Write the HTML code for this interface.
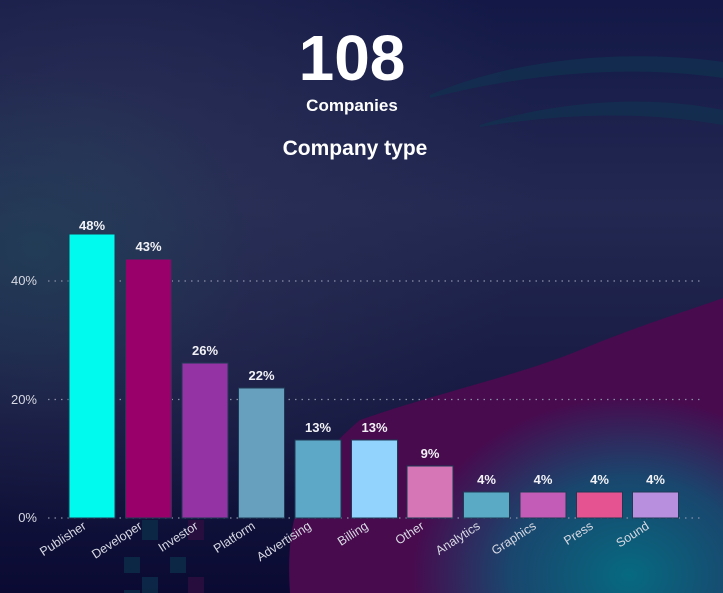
<!DOCTYPE html>
<html><head><meta charset="utf-8"><style>
html,body{margin:0;padding:0;width:723px;height:593px;overflow:hidden;background:#141840}
svg{display:block}
text{font-family:"Liberation Sans",Arial,sans-serif}
</style></head><body>
<svg width="723" height="593" viewBox="0 0 723 593" xmlns="http://www.w3.org/2000/svg">
<defs>
<linearGradient id="bg" x1="0" y1="0" x2="0" y2="1">
<stop offset="0" stop-color="#131846"/>
<stop offset="0.35" stop-color="#222851"/>
<stop offset="0.7" stop-color="#171a42"/>
<stop offset="1" stop-color="#0a0a33"/>
</linearGradient>
<radialGradient id="glow" cx="0.15" cy="0.3" r="0.6">
<stop offset="0" stop-color="#2d3358" stop-opacity="0.8"/>
<stop offset="1" stop-color="#2d3358" stop-opacity="0"/>
</radialGradient>
<radialGradient id="teal" cx="0.87" cy="0.97" r="0.3">
<stop offset="0" stop-color="#066a80"/>
<stop offset="0.55" stop-color="#0a5a78" stop-opacity="0.75"/>
<stop offset="1" stop-color="#0a5a78" stop-opacity="0"/>
</radialGradient>
<radialGradient id="tealL" cx="0.05" cy="0.42" r="0.3">
<stop offset="0" stop-color="#1c4a58" stop-opacity="0.5"/>
<stop offset="1" stop-color="#1c4a58" stop-opacity="0"/>
</radialGradient>
</defs>
<rect width="723" height="593" fill="url(#bg)"/>
<rect width="723" height="593" fill="url(#glow)"/>
<rect width="723" height="593" fill="url(#tealL)"/>
<path d="M430 95 C520 55 640 50 723 62 L723 78 C640 66 540 70 430 98Z" fill="#0f3552" opacity="0.6"/>
<path d="M480 125 C560 100 650 95 723 110 L723 125 C650 112 570 112 480 127Z" fill="#0f3552" opacity="0.6"/>
<path d="M290 593 C285 520 300 470 360 420 C430 395 520 375 580 350 C640 325 690 310 723 298 L723 593Z" fill="#470b4e"/>
<rect width="723" height="593" fill="url(#teal)"/>
<g fill="#0c2a48" opacity="0.9">
<rect x="142" y="520" width="16" height="20"/><rect x="124" y="557" width="16" height="16"/><rect x="170" y="557" width="16" height="16"/><rect x="142" y="577" width="16" height="16"/><rect x="124" y="590" width="16" height="3"/>
</g>
<g fill="#2a0e40" opacity="0.9"><rect x="188" y="577" width="16" height="16"/><rect x="188" y="520" width="16" height="20"/></g>
<text x="352" y="80" text-anchor="middle" fill="#fff" font-size="64" font-weight="bold">108</text>
<text x="352" y="111" text-anchor="middle" fill="#fff" font-size="17" font-weight="bold">Companies</text>
<text x="355" y="155" text-anchor="middle" fill="#fff" font-size="21" font-weight="bold">Company type</text>
<g stroke="#8a8fa8" stroke-width="1.2" stroke-dasharray="1.5 5">
<line x1="48" y1="281" x2="702" y2="281"/>
<line x1="48" y1="399.5" x2="702" y2="399.5"/>
<line x1="48" y1="518" x2="702" y2="518"/>
</g>
<g fill="#d8d9e3" font-size="13" text-anchor="end">
<text x="37" y="285">40%</text><text x="37" y="404">20%</text><text x="37" y="522">0%</text>
</g>
<g stroke="#1e3a55" stroke-width="1">
<rect x="69" y="234" width="46" height="284" fill="#00fbee"/>
<rect x="125.5" y="259" width="46" height="259" fill="#99006a"/>
<rect x="182" y="363" width="46" height="155" fill="#9433a3"/>
<rect x="238.5" y="388" width="46" height="130" fill="#679fbf"/>
<rect x="295" y="440" width="46" height="78" fill="#5ca8c6"/>
<rect x="351.5" y="440" width="46" height="78" fill="#92d3fe"/>
<rect x="407" y="466" width="46" height="52" fill="#d676b6"/>
<rect x="463.5" y="492" width="46" height="26" fill="#5aaac6"/>
<rect x="520" y="492" width="46" height="26" fill="#c25cb7"/>
<rect x="576.5" y="492" width="46" height="26" fill="#e65391"/>
<rect x="632.5" y="492" width="46" height="26" fill="#b88ede"/>
</g>
<g fill="#f2f2f6" font-size="13" font-weight="bold" text-anchor="middle">
<text x="92" y="230">48%</text><text x="148.5" y="251">43%</text><text x="205" y="355">26%</text><text x="261.5" y="380">22%</text><text x="318" y="432">13%</text><text x="374.5" y="432">13%</text><text x="430" y="458">9%</text><text x="486.5" y="484">4%</text><text x="543" y="484">4%</text><text x="599.5" y="484">4%</text><text x="655.5" y="484">4%</text>
</g>
<g fill="#d8d9e3" font-size="12.5" text-anchor="end">
<text transform="translate(87,528) rotate(-33)">Publisher</text>
<text transform="translate(143,528) rotate(-33)">Developer</text>
<text transform="translate(199,528) rotate(-33)">Investor</text>
<text transform="translate(256,528) rotate(-33)">Platform</text>
<text transform="translate(312,528) rotate(-33)">Advertising</text>
<text transform="translate(369,528) rotate(-33)">Billing</text>
<text transform="translate(425,528) rotate(-33)">Other</text>
<text transform="translate(481,528) rotate(-33)">Analytics</text>
<text transform="translate(537,528) rotate(-33)">Graphics</text>
<text transform="translate(594,528) rotate(-33)">Press</text>
<text transform="translate(650,528) rotate(-33)">Sound</text>
</g>
</svg>
</body></html>
